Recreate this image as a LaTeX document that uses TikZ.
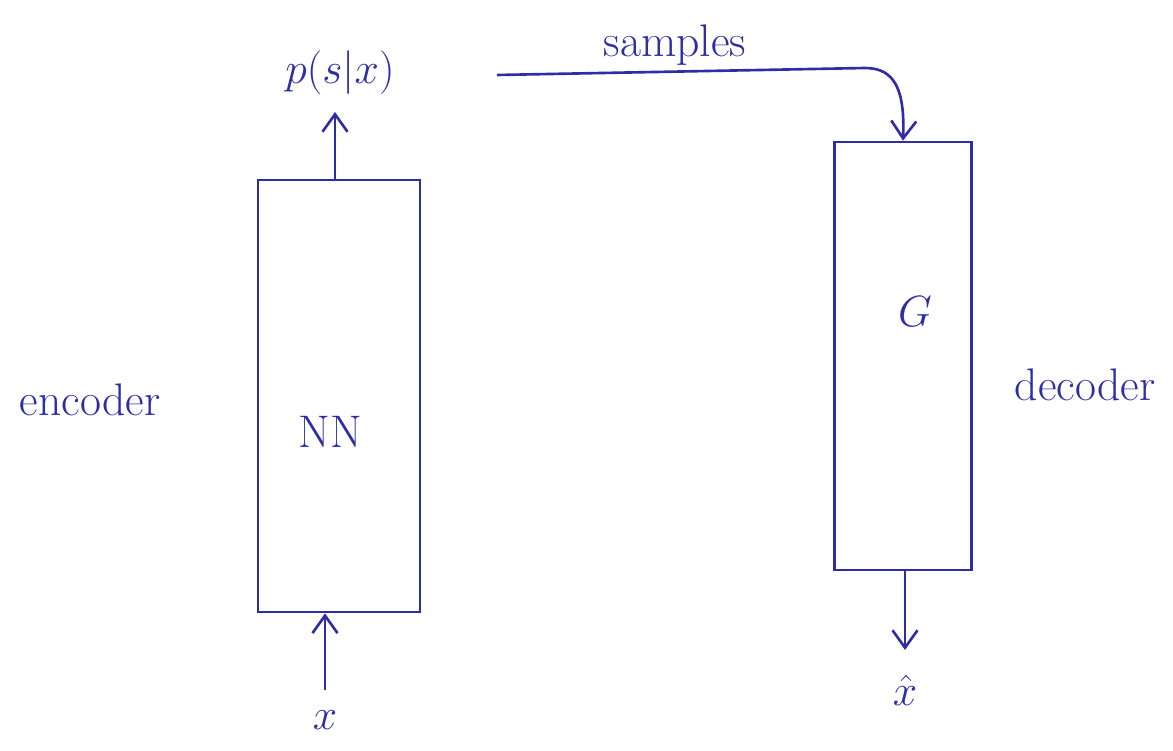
\documentclass[tikz,border=0pt]{standalone}
\usepackage{amsmath}
\usepackage{tikz}
\usetikzlibrary{arrows.meta,positioning}
\definecolor{pen}{RGB}{45,45,165}

\begin{document}
\begin{tikzpicture}[
    pen line/.style={draw=pen, line width=1.5pt},
    net/.style={pen line, rectangle, minimum width=3.1cm, minimum height=8.6cm},
    lbl/.style={text=pen, font=\fontsize{26}{30}\selectfont},
    flow/.style={pen line, -{Straight Barb[length=3.5mm,width=5mm]}}
]
\useasboundingbox (0,0) rectangle (23.46,15);

\node[net, minimum width=3.24cm, minimum height=8.64cm] (enc) at (6.78, 7.08) {};
\node[net, minimum width=2.74cm, minimum height=8.56cm] (dec) at (18.06, 7.88) {};

\node[lbl] (nn) at (6.6, 6.36) {NN};
\node[lbl] (g) at (18.3, 8.76) {$G$};

\node[lbl] (enclbl) at (1.8, 7.0) {encoder};
\node[lbl] (declbl) at (21.7, 7.3) {decoder};

\node[lbl] (ps) at (6.8, 13.55) {$p(s|x)$};
\node[lbl] (xin) at (6.5, 0.6) {$x$};
\node[lbl] (xhat) at (18.1, 1.2) {$\hat{x}$};

% Pfeilenden
\coordinate (pstip) at (6.7, 12.76);
\coordinate (xtail) at (6.5, 1.2);
\coordinate (xhattip) at (18.1, 2.0);

% samples weitergeben
\coordinate (sstart) at (9.94, 13.5);
\coordinate (sturn) at (17.3, 13.64);
\node[lbl] (samp) at (13.5, 14.1) {samples};

\draw[flow] (enc.north -| pstip) -- (pstip);
\draw[flow] (xtail) -- (enc.south -| xtail);
\draw[flow] (dec.south -| xhattip) -- (xhattip);
\draw[flow] (sstart) -- (sturn)
    .. controls (17.9, 13.64) and (18.1, 13.2) .. (dec.north);
\end{tikzpicture}
\end{document}
